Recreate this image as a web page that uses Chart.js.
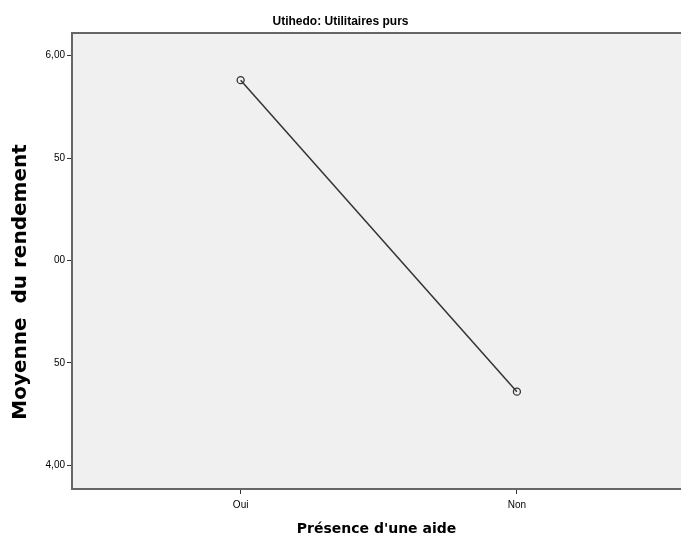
<!DOCTYPE html>
<html>
<head>
<meta charset="utf-8">
<script src="https://cdn.jsdelivr.net/npm/chart.js@4"></script>
<style>
  html, body { margin: 0; padding: 0; background: #ffffff; }
  #wrap { width: 681px; height: 538px; }
</style>
</head>
<body>
<div id="wrap"><canvas id="c" width="681" height="538"></canvas></div>
<script>
const categories = ['Oui', 'Non'];
const meanValues = [5.88, 4.36];
const yTickValues = [4.0, 4.5, 5.0, 5.5, 6.0];
const yTickLabels = ['4,00', '50', '00', '50', '6,00'];
const chartTitle = 'Utihedo: Utilitaires purs';
const xTitle = "Présence d'une aide";
const yTitle = 'Moyenne  du rendement';

const dark = '#333333';
const axisGray = '#666666';

const bgPlugin = {
  id: 'plotBg',
  beforeDraw(chart) {
    const a = chart.chartArea, ctx = chart.ctx;
    ctx.save();
    ctx.fillStyle = '#f0f0f0';
    ctx.fillRect(a.left, a.top, a.right - a.left, a.bottom - a.top);
    ctx.strokeStyle = axisGray;
    ctx.lineWidth = 2;
    ctx.beginPath();
    ctx.moveTo(a.left, a.top);
    ctx.lineTo(a.right, a.top);
    ctx.stroke();
    ctx.restore();
  },
  afterDraw(chart) {
    const ctx = chart.ctx;
    const y = chart.scales.y;
    ctx.save();
    ctx.fillStyle = '#000';
    ctx.font = 'bold 20px "DejaVu Sans", Verdana, sans-serif';
    ctx.textAlign = 'center';
    ctx.textBaseline = 'middle';
    ctx.translate(21, (y.top + y.bottom) / 2 + 21);
    ctx.rotate(-Math.PI / 2);
    ctx.fillText(yTitle, 0, 0);
    ctx.restore();
  }
};

new Chart(document.getElementById('c'), {
  type: 'line',
  data: {
    datasets: [{
      data: categories.map((c, i) => ({ x: i, y: meanValues[i] })),
      borderColor: dark,
      borderWidth: 1.5,
      pointRadius: 3.5,
      pointBorderWidth: 1.3,
      pointBorderColor: dark,
      pointBackgroundColor: 'rgba(0,0,0,0)',
      fill: false,
      tension: 0
    }]
  },
  options: {
    responsive: false,
    animation: false,
    layout: { autoPadding: false, padding: { left: 0, right: 0, top: 0, bottom: 0 } },
    plugins: {
      legend: { display: false },
      tooltip: { enabled: false },
      title: {
        display: true,
        text: chartTitle,
        color: '#000',
        font: { family: '"Liberation Sans", Arial, sans-serif', size: 12, weight: 'bold', lineHeight: 1.2 },
        padding: { top: 14, bottom: 4.6 }
      }
    },
    scales: {
      x: {
        type: 'linear',
        min: -0.6105,
        max: 1.594,
        afterBuildTicks(scale) { scale.ticks = categories.map((c, i) => ({ value: i })); },
        afterFit(scale) { scale.height = 49; scale.paddingLeft = 0; scale.paddingRight = 0; },
        ticks: {
          callback: (v) => categories[v],
          color: '#000',
          font: { family: '"Liberation Sans", Arial, sans-serif', size: 10 },
          padding: 5,
          autoSkip: false,
          maxRotation: 0
        },
        grid: { drawOnChartArea: false, drawTicks: true, tickLength: 5, tickColor: dark, tickWidth: 1 },
        border: { display: true, color: axisGray, width: 2 },
        title: {
          display: true,
          text: xTitle,
          color: '#000',
          font: { family: '"DejaVu Sans", Verdana, sans-serif', size: 14, weight: 'bold' },
          padding: { top: 0, bottom: 0 }
        }
      },
      y: {
        type: 'linear',
        min: 3.885,
        max: 6.11,
        afterBuildTicks(scale) { scale.ticks = yTickValues.map(v => ({ value: v })); },
        afterFit(scale) { scale.width = 72; },
        ticks: {
          callback: (v, i) => yTickLabels[i],
          color: '#000',
          font: { family: '"Liberation Sans", Arial, sans-serif', size: 10 },
          padding: 2
        },
        grid: { drawOnChartArea: false, drawTicks: true, tickLength: 5, tickColor: dark, tickWidth: 1 },
        border: { display: true, color: axisGray, width: 2 }
      }
    }
  },
  plugins: [bgPlugin]
});
</script>
</body>
</html>
